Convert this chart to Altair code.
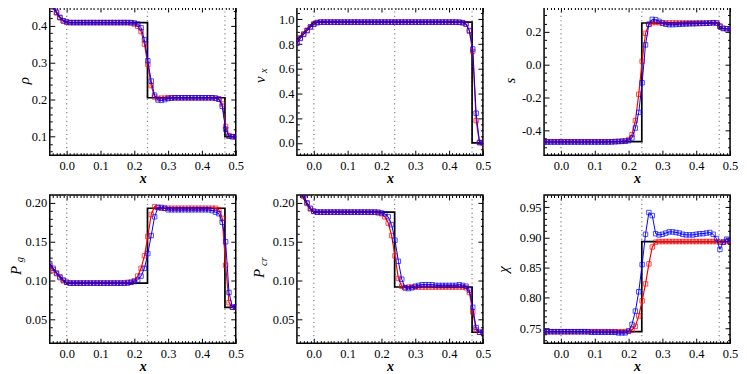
import altair as alt
import pandas as pd

# ---------------- data ----------------
X = [-0.05, -0.04, -0.03, -0.02, -0.01, 0.00, 0.01, 0.02, 0.03, 0.04,
     0.05, 0.06, 0.07, 0.08, 0.09, 0.10, 0.11, 0.12, 0.13, 0.14,
     0.15, 0.16, 0.17, 0.18, 0.19, 0.20, 0.21, 0.22, 0.23, 0.24,
     0.25, 0.26, 0.27, 0.28, 0.29, 0.30, 0.31, 0.32, 0.33, 0.34,
     0.35, 0.36, 0.37, 0.38, 0.39, 0.40, 0.41, 0.42, 0.43, 0.44,
     0.45, 0.46, 0.47, 0.48, 0.49, 0.50]

VLINES = [0.0, 0.239, 0.468]

X_LABELS = [0.0, 0.1, 0.2, 0.3, 0.4, 0.5]
X_MAJOR = [0.0, 0.1, 0.2, 0.3, 0.4, 0.5]
X_MINOR = [-0.04, -0.03, -0.02, -0.01,
           0.01, 0.02, 0.03, 0.04, 0.05, 0.06, 0.07, 0.08, 0.09,
           0.11, 0.12, 0.13, 0.14, 0.15, 0.16, 0.17, 0.18, 0.19,
           0.21, 0.22, 0.23, 0.24, 0.25, 0.26, 0.27, 0.28, 0.29,
           0.31, 0.32, 0.33, 0.34, 0.35, 0.36, 0.37, 0.38, 0.39,
           0.41, 0.42, 0.43, 0.44, 0.45, 0.46, 0.47, 0.48, 0.49]

# density rho
RHO_RED = [0.470, 0.450, 0.434, 0.421, 0.412, 0.409, 0.408, 0.408, 0.408, 0.408,
           0.408, 0.408, 0.408, 0.408, 0.408, 0.408, 0.408, 0.408, 0.408, 0.408,
           0.408, 0.408, 0.408, 0.408, 0.407, 0.404, 0.398, 0.384, 0.350, 0.295,
           0.238, 0.207, 0.203, 0.204, 0.204, 0.205, 0.205, 0.205, 0.205, 0.205,
           0.205, 0.205, 0.205, 0.205, 0.205, 0.205, 0.205, 0.205, 0.205, 0.204,
           0.202, 0.188, 0.128, 0.103, 0.100, 0.100]
RHO_BLUE = [0.472, 0.452, 0.436, 0.422, 0.413, 0.410, 0.408, 0.408, 0.408, 0.408,
            0.408, 0.408, 0.408, 0.408, 0.408, 0.408, 0.408, 0.408, 0.408, 0.408,
            0.408, 0.408, 0.408, 0.408, 0.408, 0.407, 0.404, 0.394, 0.362, 0.305,
            0.250, 0.212, 0.199, 0.198, 0.200, 0.203, 0.204, 0.205, 0.205, 0.205,
            0.205, 0.205, 0.205, 0.205, 0.205, 0.205, 0.205, 0.205, 0.205, 0.204,
            0.201, 0.182, 0.120, 0.101, 0.100, 0.100]
RHO_EX_X = [-0.05, -0.04, -0.03, -0.02, -0.01, 0.0, 0.239, 0.239, 0.468, 0.468, 0.5]
RHO_EX_Y = [0.468, 0.450, 0.435, 0.422, 0.413, 0.408, 0.408, 0.205, 0.205, 0.100, 0.100]
RHO_MAJ = [0.1, 0.2, 0.3, 0.4]
RHO_MIN = [0.06, 0.08, 0.12, 0.14, 0.16, 0.18, 0.22, 0.24, 0.26, 0.28,
           0.32, 0.34, 0.36, 0.38, 0.42, 0.44]

# velocity v_x
V_RED = [0.810, 0.850, 0.882, 0.912, 0.940, 0.962, 0.974, 0.977, 0.977, 0.977,
         0.977, 0.977, 0.977, 0.977, 0.977, 0.977, 0.977, 0.977, 0.977, 0.977,
         0.977, 0.977, 0.977, 0.977, 0.977, 0.977, 0.977, 0.977, 0.977, 0.977,
         0.977, 0.977, 0.977, 0.977, 0.977, 0.977, 0.977, 0.977, 0.977, 0.977,
         0.977, 0.977, 0.977, 0.977, 0.977, 0.977, 0.977, 0.977, 0.976, 0.972,
         0.962, 0.905, 0.740, 0.180, 0.002, 0.000]
V_BLUE = [0.805, 0.845, 0.878, 0.908, 0.938, 0.960, 0.974, 0.978, 0.978, 0.978,
          0.978, 0.978, 0.978, 0.978, 0.978, 0.978, 0.978, 0.978, 0.978, 0.978,
          0.978, 0.978, 0.978, 0.978, 0.978, 0.978, 0.978, 0.978, 0.978, 0.978,
          0.978, 0.978, 0.978, 0.978, 0.978, 0.978, 0.978, 0.978, 0.978, 0.978,
          0.978, 0.978, 0.978, 0.978, 0.978, 0.978, 0.978, 0.978, 0.977, 0.974,
          0.962, 0.910, 0.760, 0.240, 0.003, 0.000]
V_EX_X = [-0.05, 0.0, 0.468, 0.468, 0.5]
V_EX_Y = [0.830, 0.977, 0.977, 0.0, 0.0]
V_MAJ = [0.0, 0.2, 0.4, 0.6, 0.8, 1.0]
V_MIN = [-0.05, 0.05, 0.1, 0.15, 0.25, 0.3, 0.35, 0.45, 0.5, 0.55,
         0.65, 0.7, 0.75, 0.85, 0.9, 0.95, 1.05]

# entropy s
S_RED = [-0.468, -0.468, -0.468, -0.468, -0.468, -0.468, -0.468, -0.468, -0.468, -0.468,
         -0.468, -0.468, -0.468, -0.468, -0.468, -0.468, -0.468, -0.468, -0.468, -0.468,
         -0.468, -0.467, -0.466, -0.465, -0.463, -0.455, -0.425, -0.340, -0.180, 0.020,
         0.190, 0.245, 0.255, 0.256, 0.255, 0.254, 0.253, 0.253, 0.253, 0.253,
         0.253, 0.253, 0.253, 0.253, 0.253, 0.253, 0.253, 0.253, 0.253, 0.253,
         0.254, 0.253, 0.235, 0.220, 0.218, 0.218]
S_BLUE = [-0.470, -0.470, -0.470, -0.470, -0.470, -0.470, -0.470, -0.470, -0.470, -0.470,
          -0.470, -0.470, -0.470, -0.470, -0.470, -0.470, -0.470, -0.470, -0.470, -0.470,
          -0.469, -0.468, -0.467, -0.466, -0.465, -0.462, -0.445, -0.385, -0.290, -0.110,
          0.120, 0.245, 0.275, 0.273, 0.263, 0.252, 0.245, 0.243, 0.243, 0.244,
          0.245, 0.246, 0.247, 0.248, 0.248, 0.249, 0.250, 0.250, 0.251, 0.252,
          0.255, 0.252, 0.232, 0.220, 0.218, 0.218]
S_EX_X = [-0.05, 0.239, 0.239, 0.468, 0.468, 0.5]
S_EX_Y = [-0.468, -0.468, 0.253, 0.253, 0.218, 0.218]
S_MAJ = [-0.4, -0.2, 0.0, 0.2]
S_MIN = [-0.5, -0.45, -0.35, -0.3, -0.25, -0.15, -0.1, -0.05,
         0.05, 0.1, 0.15, 0.25, 0.3]

# gas pressure P_g
PG_RED = [0.120, 0.114, 0.109, 0.104, 0.100, 0.098, 0.097, 0.097, 0.097, 0.097,
          0.097, 0.097, 0.097, 0.097, 0.097, 0.097, 0.097, 0.097, 0.097, 0.097,
          0.097, 0.097, 0.097, 0.098, 0.098, 0.100, 0.106, 0.116, 0.132, 0.157,
          0.185, 0.195, 0.194, 0.193, 0.193, 0.193, 0.193, 0.193, 0.193, 0.193,
          0.193, 0.193, 0.193, 0.193, 0.193, 0.193, 0.193, 0.193, 0.193, 0.193,
          0.191, 0.180, 0.120, 0.072, 0.066, 0.066]
PG_BLUE = [0.122, 0.116, 0.110, 0.105, 0.101, 0.098, 0.097, 0.097, 0.097, 0.097,
           0.097, 0.097, 0.097, 0.097, 0.097, 0.097, 0.097, 0.097, 0.097, 0.097,
           0.097, 0.097, 0.097, 0.097, 0.098, 0.099, 0.101, 0.106, 0.116, 0.135,
           0.158, 0.182, 0.194, 0.194, 0.193, 0.191, 0.191, 0.191, 0.191, 0.191,
           0.191, 0.191, 0.191, 0.191, 0.191, 0.191, 0.191, 0.191, 0.190, 0.188,
           0.186, 0.175, 0.150, 0.085, 0.066, 0.066]
PG_EX_X = [-0.05, -0.04, -0.03, -0.02, -0.01, 0.0, 0.239, 0.239, 0.468, 0.468, 0.5]
PG_EX_Y = [0.121, 0.115, 0.110, 0.105, 0.100, 0.097, 0.097, 0.193, 0.193, 0.066, 0.066]
P_MAJ = [0.05, 0.10, 0.15, 0.20]
P_MIN = [0.03, 0.04, 0.06, 0.07, 0.08, 0.09, 0.11, 0.12, 0.13, 0.14,
         0.16, 0.17, 0.18, 0.19]

# cosmic-ray pressure P_cr
PC_RED = [0.232, 0.220, 0.208, 0.199, 0.192, 0.189, 0.188, 0.188, 0.188, 0.188,
          0.188, 0.188, 0.188, 0.188, 0.188, 0.188, 0.188, 0.188, 0.188, 0.188,
          0.188, 0.188, 0.188, 0.188, 0.187, 0.186, 0.182, 0.174, 0.158, 0.132,
          0.103, 0.093, 0.091, 0.092, 0.092, 0.092, 0.092, 0.092, 0.092, 0.092,
          0.092, 0.092, 0.092, 0.092, 0.092, 0.092, 0.092, 0.092, 0.092, 0.092,
          0.091, 0.085, 0.060, 0.037, 0.034, 0.034]
PC_BLUE = [0.235, 0.222, 0.210, 0.200, 0.193, 0.189, 0.188, 0.188, 0.188, 0.188,
           0.188, 0.188, 0.188, 0.188, 0.188, 0.188, 0.188, 0.188, 0.188, 0.188,
           0.188, 0.188, 0.188, 0.188, 0.188, 0.187, 0.186, 0.182, 0.172, 0.152,
           0.125, 0.102, 0.091, 0.090, 0.091, 0.093, 0.094, 0.095, 0.095, 0.095,
           0.095, 0.094, 0.094, 0.094, 0.094, 0.094, 0.094, 0.094, 0.095, 0.094,
           0.093, 0.088, 0.066, 0.040, 0.034, 0.034]
PC_EX_X = [-0.05, -0.04, -0.03, -0.02, -0.01, 0.0, 0.239, 0.239, 0.468, 0.468, 0.5]
PC_EX_Y = [0.228, 0.217, 0.206, 0.198, 0.192, 0.188, 0.188, 0.092, 0.092, 0.034, 0.034]

# chi
CHI_RED = [0.744, 0.744, 0.744, 0.744, 0.744, 0.744, 0.744, 0.744, 0.744, 0.744,
           0.744, 0.744, 0.744, 0.744, 0.744, 0.744, 0.744, 0.744, 0.744, 0.744,
           0.744, 0.744, 0.744, 0.744, 0.744, 0.745, 0.747, 0.753, 0.770, 0.795,
           0.823, 0.856, 0.884, 0.892, 0.893, 0.893, 0.893, 0.893, 0.893, 0.893,
           0.893, 0.893, 0.893, 0.893, 0.893, 0.893, 0.893, 0.893, 0.893, 0.893,
           0.893, 0.893, 0.892, 0.892, 0.893, 0.893]
CHI_BLUE = [0.744, 0.744, 0.744, 0.744, 0.744, 0.744, 0.744, 0.744, 0.744, 0.744,
            0.744, 0.744, 0.744, 0.744, 0.743, 0.743, 0.743, 0.743, 0.743, 0.743,
            0.743, 0.743, 0.742, 0.742, 0.742, 0.745, 0.756, 0.778, 0.810, 0.855,
            0.905, 0.941, 0.936, 0.906, 0.904, 0.905, 0.907, 0.909, 0.909, 0.908,
            0.907, 0.905, 0.904, 0.904, 0.904, 0.905, 0.906, 0.906, 0.907, 0.908,
            0.905, 0.898, 0.880, 0.892, 0.897, 0.893]
CHI_EX_X = [-0.05, 0.239, 0.239, 0.5]
CHI_EX_Y = [0.744, 0.744, 0.893, 0.893]
CHI_MAJ = [0.75, 0.80, 0.85, 0.90, 0.95]
CHI_MIN = [0.73, 0.74, 0.76, 0.77, 0.78, 0.79, 0.81, 0.82, 0.83, 0.84,
           0.86, 0.87, 0.88, 0.89, 0.91, 0.92, 0.93, 0.94, 0.96]

# ---------------- layout / style ----------------
W, H = 187, 149
XDOM = [-0.05, 0.5]
SERIF = "Liberation Serif, Times New Roman, serif"

PANELS = [
    dict(red=RHO_RED, blue=RHO_BLUE, ex_x=RHO_EX_X, ex_y=RHO_EX_Y, ydom=[0.05, 0.45],
         ymaj=RHO_MAJ, ymin=RHO_MIN, fmt=".1f", main="ρ", sub="", tx=-26, ty=74, sx=0, sy=0),
    dict(red=V_RED, blue=V_BLUE, ex_x=V_EX_X, ex_y=V_EX_Y, ydom=[-0.1, 1.1],
         ymaj=V_MAJ, ymin=V_MIN, fmt=".1f", main="v", sub="x", tx=-37, ty=73, sx=-33, sy=64),
    dict(red=S_RED, blue=S_BLUE, ex_x=S_EX_X, ex_y=S_EX_Y, ydom=[-0.55, 0.35],
         ymaj=S_MAJ, ymin=S_MIN, fmt=".1f", main="s", sub="", tx=-34, ty=74, sx=0, sy=0),
    dict(red=PG_RED, blue=PG_BLUE, ex_x=PG_EX_X, ex_y=PG_EX_Y, ydom=[0.02, 0.21],
         ymaj=P_MAJ, ymin=P_MIN, fmt=".2f", main="P", sub="g", tx=-34, ty=76, sx=-29.5, sy=65),
    dict(red=PC_RED, blue=PC_BLUE, ex_x=PC_EX_X, ex_y=PC_EX_Y, ydom=[0.02, 0.21],
         ymaj=P_MAJ, ymin=P_MIN, fmt=".2f", main="P", sub="cr", tx=-38, ty=79, sx=-33.5, sy=67),
    dict(red=CHI_RED, blue=CHI_BLUE, ex_x=CHI_EX_X, ex_y=CHI_EX_Y, ydom=[0.725, 0.97],
         ymaj=CHI_MAJ, ymin=CHI_MIN, fmt=".2f", main="χ", sub="", tx=-41, ty=75, sx=0, sy=0),
]


def tick_axis(orient, values, size, offset):
    return alt.Axis(orient=orient, offset=offset, values=values, labels=False,
                    domain=False, grid=False, ticks=True, tickSize=size,
                    tickColor="black", tickWidth=1, title=None)


def make_panel(p):
    df = pd.DataFrame({"x": X, "red": p["red"], "blue": p["blue"]})
    ex = pd.DataFrame({"x": p["ex_x"], "y": p["ex_y"], "i": list(range(len(p["ex_x"])))})
    vl = pd.DataFrame({"x": VLINES})
    xs = alt.Scale(domain=XDOM, nice=False, zero=False)
    ys = alt.Scale(domain=p["ydom"], nice=False, zero=False)

    ax_x_lab = alt.Axis(orient="bottom", values=X_LABELS, format=".1f", ticks=False,
                        tickSize=0, domain=False, grid=False, labelPadding=4,
                        labelFlush=False, labelOverlap=False,
                        labelFont=SERIF, labelFontSize=12.5, labelColor="black",
                        title="x", titleFont=SERIF, titleColor="black",
                        titleFontStyle="italic", titleFontWeight="bold",
                        titleFontSize=14, titlePadding=0)
    ax_y_lab = alt.Axis(orient="left", values=p["ymaj"], ticks=False, tickSize=0,
                        domain=False, grid=False, labelPadding=3, labelFlush=False,
                        labelOverlap=False, title=None,
                        labelFont=SERIF, labelFontSize=12.5, labelColor="black",
                        labelExpr="replace(format(datum.value, '%s'), '\u2212', '-')" % p["fmt"])

    rules = alt.Chart(vl).mark_rule(color="#8a8a8a", strokeDash=[1.2, 3.2], strokeWidth=1.3).encode(
        x=alt.X("x:Q", scale=xs, axis=tick_axis("top", X_MAJOR, 5, -H)))
    black = alt.Chart(ex).mark_line(color="black", strokeWidth=1.7, clip=True).encode(
        x=alt.X("x:Q", scale=xs, axis=ax_x_lab),
        y=alt.Y("y:Q", scale=ys, axis=ax_y_lab),
        order=alt.Order("i:Q"))
    red_line = alt.Chart(df).mark_line(color="#ff0000", strokeWidth=1.2, clip=True).encode(
        x=alt.X("x:Q", scale=xs, axis=tick_axis("top", X_MINOR, 2.5, -H)),
        y=alt.Y("red:Q", scale=ys, axis=tick_axis("right", p["ymaj"], 5, -W)))
    red_pts = alt.Chart(df).mark_point(shape="square", filled=False, color="#ff0000",
                                       size=20, strokeWidth=1, clip=True).encode(
        x=alt.X("x:Q", scale=xs, axis=tick_axis("bottom", X_MAJOR, 5, -H)),
        y=alt.Y("red:Q", scale=ys, axis=tick_axis("right", p["ymin"], 2.5, -W)))
    blue_line = alt.Chart(df).mark_line(color="#0000ff", strokeWidth=1.0, clip=True).encode(
        x=alt.X("x:Q", scale=xs, axis=tick_axis("bottom", X_MINOR, 2.5, -H)),
        y=alt.Y("blue:Q", scale=ys, axis=tick_axis("left", p["ymaj"], 5, -W)))
    blue_pts = alt.Chart(df).mark_point(shape="square", filled=False, color="#0000ff",
                                        size=20, strokeWidth=1, clip=True).encode(
        x=alt.X("x:Q", scale=xs, axis=None),
        y=alt.Y("blue:Q", scale=ys, axis=tick_axis("left", p["ymin"], 2.5, -W)))

    layers = [rules, black, red_line, red_pts, blue_line, blue_pts]

    main = alt.Chart(pd.DataFrame({"t": [p["main"]]})).mark_text(
        angle=270, font=SERIF, fontStyle="italic", fontSize=15, color="black",
        align="center", baseline="middle").encode(
        x=alt.value(p["tx"]), y=alt.value(p["ty"]), text="t:N")
    layers.append(main)
    if p["sub"]:
        sub = alt.Chart(pd.DataFrame({"t": [p["sub"]]})).mark_text(
            angle=270, font=SERIF, fontStyle="italic", fontSize=10.5, color="black",
            align="center", baseline="middle").encode(
            x=alt.value(p["sx"]), y=alt.value(p["sy"]), text="t:N")
        layers.append(sub)

    return alt.layer(*layers).properties(width=W, height=H).resolve_axis(
        x="independent", y="independent")


panels = [make_panel(p) for p in PANELS]

chart = alt.concat(*panels, columns=3, spacing={"row": 40, "column": 61.5},
                   bounds="flush").properties(
    padding={"left": 0, "top": -4, "right": 0, "bottom": 0}
).configure(
    font=SERIF
).configure_view(
    stroke="black", strokeWidth=1.5
).configure_axis(
    labelFont=SERIF, labelFontSize=12.5, labelColor="black",
    titleFont=SERIF, titleColor="black", tickColor="black"
)

chart.save("out.html", embed_options={"renderer": "svg", "actions": False})
